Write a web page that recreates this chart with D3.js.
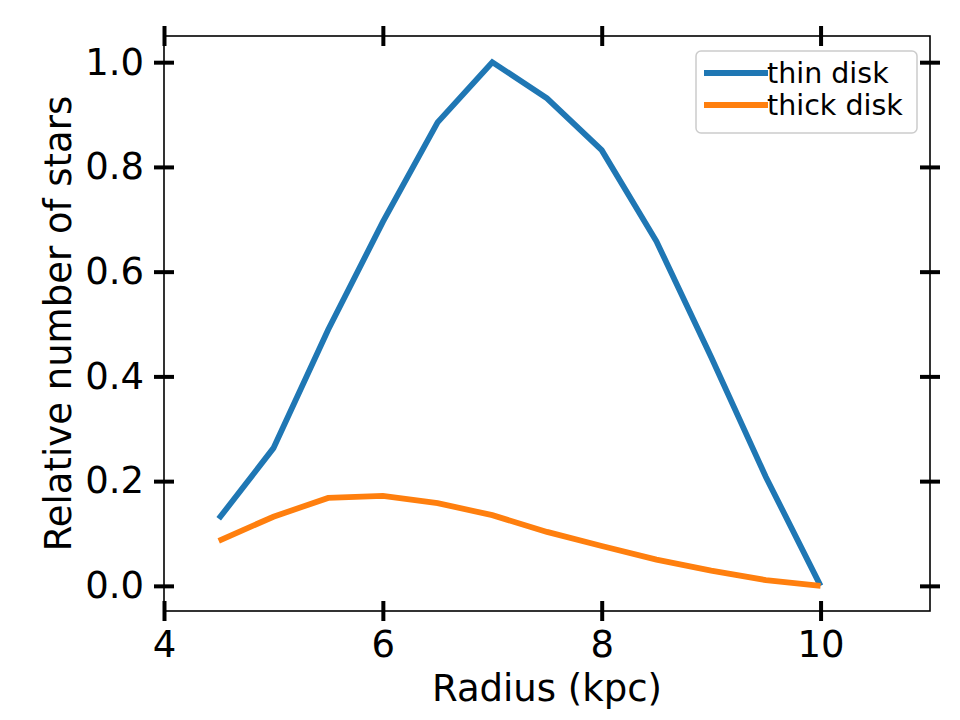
<!DOCTYPE html>
<html><head><meta charset="utf-8">
<script src="https://cdn.jsdelivr.net/npm/d3@7"></script>
<style>body{margin:0;background:#fff}svg{display:block}text{font-family:"DejaVu Sans",sans-serif}</style>
</head><body>
<script>
const radius = [4.5,5.0,5.5,6.0,6.5,7.0,7.5,8.0,8.5,9.0,9.5,10.0];
const thinDisk = [0.128,0.263,0.489,0.695,0.885,1.0,0.931,0.832,0.658,0.437,0.208,0.0];
const thickDisk = [0.086,0.132,0.168,0.172,0.158,0.135,0.103,0.076,0.050,0.029,0.011,0.0];
const xTicks = [4,6,8,10];
const yTicks = [0.0,0.2,0.4,0.6,0.8,1.0];
const seriesNames = ["thin disk","thick disk"];
const colors = ["#1f77b4","#ff7f0e"];

const W=960,H=720;
const L=164,R=930,T=36,B=611;
const svg=d3.select("body").append("svg").attr("width",W).attr("height",H);
const x=d3.scaleLinear().domain([4,11]).range([L,R]);
const y=d3.scaleLinear().domain([-0.048,1.05]).range([B,T]);

const line=d3.line().x(d=>x(d[0])).y(d=>y(d[1]));
[thinDisk,thickDisk].forEach((s,i)=>{
  svg.append("path").datum(radius.map((r,j)=>[r,s[j]]))
    .attr("d",line).attr("fill","none").attr("stroke",colors[i]).attr("stroke-width",5.8);
});

// spines
svg.append("rect").attr("x",L).attr("y",T).attr("width",R-L).attr("height",B-T)
  .attr("fill","none").attr("stroke","#000").attr("stroke-width",1.6);

function styleAxis(g){
  g.select(".domain").remove();
  g.selectAll(".tick line").attr("stroke","#000").attr("stroke-width",4);
  g.selectAll(".tick text").attr("font-size",37).attr("fill","#000").attr("font-family","DejaVu Sans");
}
const tl=10;
const gb=svg.append("g").attr("transform",`translate(0,${B})`)
  .call(d3.axisBottom(x).tickValues(xTicks).tickFormat(d3.format("d")).tickSize(tl).tickPadding(10));
styleAxis(gb); gb.selectAll(".tick line").attr("y1",-tl);
const gt=svg.append("g").attr("transform",`translate(0,${T})`)
  .call(d3.axisTop(x).tickValues(xTicks).tickFormat("").tickSize(tl));
styleAxis(gt); gt.selectAll(".tick line").attr("y1",tl);
const gl=svg.append("g").attr("transform",`translate(${L},0)`)
  .call(d3.axisLeft(y).tickValues(yTicks).tickFormat(d3.format(".1f")).tickSize(tl).tickPadding(10));
styleAxis(gl); gl.selectAll(".tick line").attr("x1",tl);
const gr=svg.append("g").attr("transform",`translate(${R},0)`)
  .call(d3.axisRight(y).tickValues(yTicks).tickFormat("").tickSize(tl));
styleAxis(gr); gr.selectAll(".tick line").attr("x1",-tl);

svg.append("text").attr("x",(L+R)/2).attr("y",701).attr("text-anchor","middle")
  .attr("font-size",37).text("Radius (kpc)");
svg.append("text").attr("transform",`translate(71,${(T+B)/2}) rotate(-90)`).attr("text-anchor","middle")
  .attr("font-size",37).text("Relative number of stars");

// legend
const lg=svg.append("g");
lg.append("rect").attr("x",696).attr("y",51).attr("width",221).attr("height",82).attr("rx",5)
  .attr("fill","#fff").attr("fill-opacity",0.8).attr("stroke","#cccccc").attr("stroke-width",1.5);
seriesNames.forEach((n,i)=>{
  const yy=73+i*32;
  lg.append("line").attr("x1",704).attr("x2",768).attr("y1",yy).attr("y2",yy)
    .attr("stroke",colors[i]).attr("stroke-width",5.8);
  lg.append("text").attr("x",767).attr("y",yy).attr("dy","0.35em").attr("font-size",28.5).text(n);
});
</script>
</body></html>
